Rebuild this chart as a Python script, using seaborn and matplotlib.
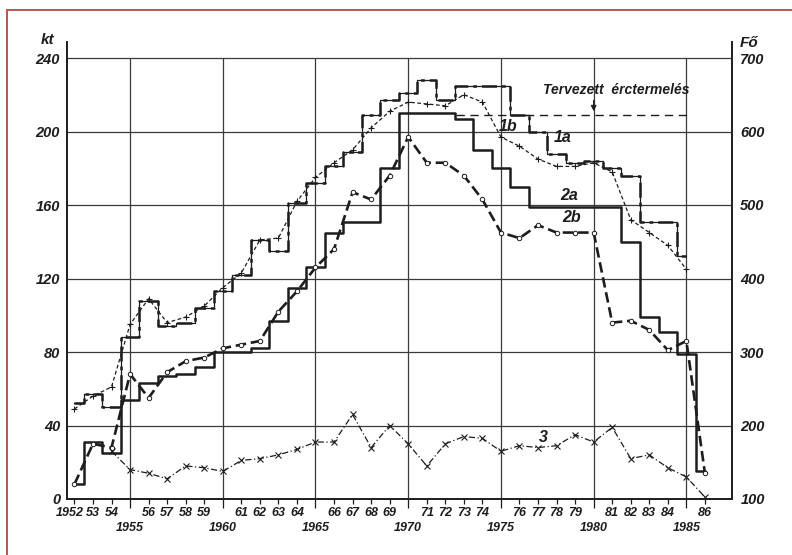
import matplotlib
matplotlib.use("Agg")
import matplotlib.pyplot as plt
import matplotlib.transforms as mtrans
import seaborn as sns
import pandas as pd
from matplotlib.lines import Line2D

# ---------------- data (kt scale) ----------------
years_1 = list(range(1952, 1986))
s1a = [52, 57, 50, 88, 108, 94, 96, 104, 113, 122,
       141, 135, 161, 172, 181, 189, 209, 217, 221, 228,
       217, 225, 225, 225, 209, 200, 188, 183, 184, 180,
       176, 151, 151, 132]
s1b = [49, 56, 61, 95, 109, 96, 99, 105, 115, 123,
       141, 142, 162, 175, 183, 190, 202, 211, 216, 215,
       214, 220, 216, 197, 192, 185, 181, 181, 183, 178,
       152, 145, 138, 125]

years_2 = list(range(1952, 1987))
s2a = [8, 31, 25, 54, 63, 67, 68, 72, 80, 80,
       82, 97, 115, 126, 145, 151, 151, 180, 210, 210,
       210, 207, 190, 180, 170, 159, 159, 159, 159, 159,
       140, 99, 91, 79, 15]
s2b = [8, 30, 28, 68, 55, 69, 75, 77, 82, 84,
       86, 102, 113, 126, 136, 167, 163, 176, 197, 183,
       183, 176, 163, 145, 142, 149, 145, 145, 145, 96,
       97, 92, 81, 86, 14]

years_3 = list(range(1954, 1987))
s3 = [26, 16, 14, 11, 18, 17, 15, 21, 22, 24,
      27, 31, 31, 46, 28, 40, 30, 18, 30, 34,
      33, 26, 29, 28, 29, 35, 31, 39, 22, 24,
      17, 12, 1]

planned_years = [1972.6, 1985.1]
planned_value = 209

kt_ticks = [0, 40, 80, 120, 160, 200, 240]
fo_ticks = [100, 200, 300, 400, 500, 600, 700]
major_years = [1955, 1960, 1965, 1970, 1975, 1980, 1985]
minor_years = [y for y in range(1952, 1987) if y % 5 != 0]
minor_labels = ["1952" if y == 1952 else f"{y % 100:02d}" for y in minor_years]
major_labels = [str(y) for y in major_years]

# ---------------- style ----------------
sns.set_theme(style="white")
plt.rcParams["font.family"] = ["Liberation Sans Narrow", "Liberation Sans", "DejaVu Sans"]
plt.rcParams["font.style"] = "italic"
plt.rcParams["font.weight"] = "bold"

ink = "#1d1d1d"
grid_c = "#3a3a3a"

fig = plt.figure(figsize=(7.92, 5.55), dpi=100)
fig.patch.set_facecolor("white")
ax = fig.add_axes([67 / 792, 1 - 499 / 555, (732 - 67) / 792, (499 - 42) / 555])
ax.set_facecolor("white")

YMAX = 240 * 457 / 441
ax.set_xlim(1951.6, 1987.46)
ax.set_ylim(0, YMAX)

# grid
ax.hlines(kt_ticks[1:], 1951.6, 1987.46, color=grid_c, lw=0.9, zorder=1)
ax.vlines(major_years, 0, 240, color=grid_c, lw=0.9, zorder=1)

# series
df1a = pd.DataFrame({"year": years_1, "kt": s1a})
df1b = pd.DataFrame({"year": years_1, "kt": s1b})
df2a = pd.DataFrame({"year": years_2, "kt": s2a})
df2b = pd.DataFrame({"year": years_2, "kt": s2b})
df3 = pd.DataFrame({"year": years_3, "kt": s3})

sns.lineplot(data=df1a, x="year", y="kt", ax=ax, color=ink, lw=0.9,
             drawstyle="steps-mid", zorder=3)
sns.lineplot(data=df1a, x="year", y="kt", ax=ax, color=ink, lw=1.8,
             drawstyle="steps-mid", linestyle=(0, (6, 2, 1.5, 2)), zorder=3)
sns.lineplot(data=df1b, x="year", y="kt", ax=ax, color=ink, lw=0.9,
             linestyle=(0, (3, 2)), marker="+", markersize=5, mew=0.8,
             mec=ink, zorder=4)
sns.lineplot(data=df2a, x="year", y="kt", ax=ax, color=ink, lw=1.8,
             drawstyle="steps-mid", zorder=3)
sns.lineplot(data=df2b, x="year", y="kt", ax=ax, color=ink, lw=1.9,
             linestyle=(0, (4, 1.8)), marker="o", markersize=3.2,
             mfc="white", mec=ink, mew=0.7, zorder=4)
sns.lineplot(data=df3, x="year", y="kt", ax=ax, color=ink, lw=0.9,
             linestyle=(0, (5, 2, 1, 2)), marker="x", markersize=4,
             mew=0.8, mec=ink, zorder=4)

# planned production line and annotation
ax.hlines(planned_value, planned_years[0], planned_years[1], color=ink,
          lw=1.0, linestyles=(0, (6, 4)), zorder=3)
ax.text(1981.2, 222.6, "Tervezett  érctermelés", ha="center", va="center",
        fontsize=10, color=ink)
ax.annotate("", xy=(1980, 209.5), xytext=(1980, 218.5),
            arrowprops=dict(arrowstyle="-|>", color=ink, lw=0.9, mutation_scale=8))

# series labels
for txt, x, y in [("1a", 1978.3, 196.5), ("1b", 1975.4, 202.5),
                  ("2a", 1978.7, 165.4), ("2b", 1978.8, 153.0),
                  ("3", 1977.3, 33.5)]:
    ax.text(x, y, txt, ha="center", va="center", fontsize=11.5, color=ink)

# spines
for s in ["left", "bottom", "right"]:
    ax.spines[s].set_visible(True)
    ax.spines[s].set_color(ink)
    ax.spines[s].set_linewidth(1.4)
ax.spines["top"].set_visible(False)

# ticks
ax.set_yticks(kt_ticks)
ax.set_yticklabels([str(v) for v in kt_ticks])
ax.set_xticks(major_years)
ax.set_xticklabels(major_labels)
ax.set_xticks(minor_years, labels=minor_labels, minor=True)
ax.tick_params(axis="y", length=0, pad=5, labelsize=10.5, colors=ink)
ax.tick_params(axis="x", which="major", bottom=True, length=6.5, width=0.9,
               pad=10, labelsize=9, colors=ink, direction="out")
ax.tick_params(axis="x", which="minor", bottom=True, length=3.5, width=0.9,
               pad=2, labelsize=9, colors=ink, direction="out")
ax.set_xlabel("")
ax.set_ylabel("")

# the "1952" label sits slightly left of its tick in the original
for lbl in ax.get_xticklabels(minor=True):
    if lbl.get_text() == "1952":
        lbl.set_transform(lbl.get_transform() +
                          mtrans.ScaledTranslation(-5 / 100, 0, fig.dpi_scale_trans))

ax2 = ax.twinx()
ax2.set_ylim(100, 100 + 2.5 * YMAX)
ax2.set_yticks(fo_ticks)
ax2.set_yticklabels([str(v) for v in fo_ticks])
ax2.tick_params(axis="y", length=0, pad=6, labelsize=10.5, colors=ink)
for s in ax2.spines.values():
    s.set_visible(False)
ax2.grid(False)
ax.grid(False)

# axis unit labels
fig.text(48 / 792, 1 - 40 / 555, "kt", ha="center", va="center", fontsize=11, color=ink)
fig.text(749 / 792, 1 - 43 / 555, "Fő", ha="center", va="center", fontsize=11, color=ink)

# red frame of the scan
frame_c = "#b4584c"
fig.add_artist(Line2D([7 / 792, 1.0], [1 - 10 / 555, 1 - 10 / 555],
                      transform=fig.transFigure, color=frame_c, lw=1.4))
fig.add_artist(Line2D([7 / 792, 7 / 792], [0.0, 1 - 10 / 555],
                      transform=fig.transFigure, color=frame_c, lw=1.4))

fig.savefig("out.png", dpi=100, facecolor="white")
